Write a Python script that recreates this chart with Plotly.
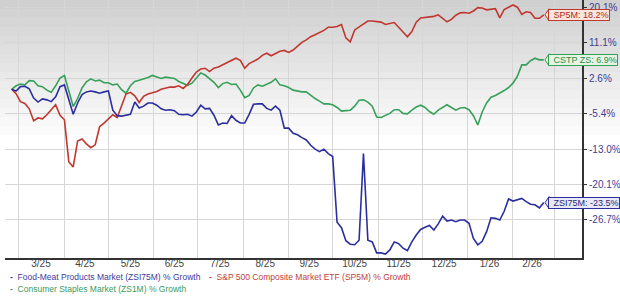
import numpy as np
import pandas as pd
import plotly.graph_objects as go

# ---------------- data ----------------
START_DATE = "2025-02-24"
N_POINTS = 122
DATES = pd.date_range(START_DATE, periods=N_POINTS, freq="3D")

ZSI75M = [
    0.0, -0.4, 0.6, 0.7, 0.1, -2.0, -2.9, -2.2, -2.4, -2.8,
    -1.7, 0.6, 1.0, -2.6, -5.6, -3.1, -1.2, -0.6, -0.4, -0.6,
    -0.9, -0.6, -0.4, -4.7, -5.9, -6.0, -5.8, -5.6, -2.9, -4.2,
    -3.8, -3.1, -3.1, -3.6, -4.4, -4.7, -4.6, -4.8, -5.6, -5.7,
    -5.6, -6.0, -5.1, -3.6, -4.4, -4.3, -5.8, -7.9, -7.5, -7.6,
    -5.9, -6.9, -7.5, -7.5, -5.6, -3.4, -3.3, -3.3, -4.3, -4.7,
    -3.8, -4.7, -8.6, -8.6, -9.7, -10.0, -10.6, -11.1, -12.2, -13.0,
    -13.5, -13.0, -13.9, -14.5, -27.1, -28.1, -30.4, -31.0, -31.1, -30.3,
    -13.9, -30.3, -30.6, -32.5, -32.5, -32.7, -32.0, -30.6, -30.9, -31.7,
    -32.1, -30.6, -29.4, -28.4, -28.0, -27.7, -28.5, -27.4, -26.0, -26.9,
    -26.7, -27.0, -26.7, -26.7, -27.3, -30.0, -31.1, -30.5, -28.8, -26.3,
    -26.4, -26.7, -25.1, -22.8, -23.2, -23.0, -22.7, -23.3, -23.8, -23.9,
    -24.5, -23.5,
]

SP5M = [
    0.0, -1.0, -2.8, -3.2, -4.4, -7.0, -6.4, -6.6, -5.7, -4.7,
    -3.5, -5.8, -6.8, -15.6, -16.6, -11.3, -10.9, -11.9, -12.7, -12.1,
    -8.3, -7.5, -6.6, -5.7, -6.3, -3.8, -1.1, -0.7, -1.5, -3.0,
    -1.6, -1.1, -0.8, -0.5, 0.0, 0.2, 0.5, 0.5, 0.8, 0.2,
    1.1, 2.6, 4.0, 4.7, 4.9, 4.1, 4.9, 5.2, 5.7, 6.2,
    6.7, 7.3, 6.8, 4.9, 6.0, 6.6, 7.1, 8.0, 8.5, 7.9,
    8.4, 9.0, 9.2, 8.7, 9.3, 10.3, 11.2, 11.8, 12.6, 13.1,
    13.6, 14.2, 15.0, 15.0, 15.2, 15.7, 12.3, 11.3, 14.3, 15.1,
    15.9, 16.6, 16.6, 16.4, 16.3, 15.7, 16.0, 16.2, 15.0, 13.9,
    12.6, 13.9, 16.3, 17.4, 17.5, 17.7, 17.8, 18.2, 17.4, 16.4,
    17.0, 18.1, 18.7, 18.8, 18.6, 19.2, 20.1, 20.0, 19.5, 19.7,
    19.8, 17.4, 19.6, 20.2, 20.8, 20.2, 18.3, 19.0, 18.8, 17.3,
    17.3, 18.2,
]

ZS1M = [
    0.0, 0.8, 1.2, 1.0, 2.0, 1.9, 0.8, 0.6, -0.2, -0.7,
    0.8, 2.6, 3.2, -0.2, -3.9, -2.1, 0.3, 1.7, 2.4, 1.9,
    2.1, 1.5, 1.5, 1.0, 1.2, -0.1, -0.9, 0.8, 1.8, 2.1,
    2.4, 2.7, 3.2, 2.8, 2.5, 2.8, 2.7, 2.5, 1.8, 1.3,
    0.9, 1.4, 2.5, 3.8, 3.3, 2.5, 1.6, 0.4, 1.3, 1.6,
    1.1, 1.2, -0.2, -1.9, -1.4, 0.3, 1.0, 0.7, 1.2, 1.6,
    2.4, 1.0, 0.8, 0.4, -0.2, -0.4, -0.6, -0.6, -1.4, -2.1,
    -2.7, -3.3, -3.3, -3.5, -4.1, -4.9, -4.8, -4.7, -3.8, -2.5,
    -2.4, -2.9, -3.8, -6.2, -6.3, -5.9, -5.4, -4.6, -4.6, -5.4,
    -5.5, -4.7, -4.0, -3.6, -4.1, -5.0, -5.6, -4.7, -4.0, -3.5,
    -4.1, -4.7, -4.2, -4.1, -4.6, -5.9, -7.9, -5.1, -3.1, -1.8,
    -1.4, -0.9, -0.3, 0.4, 1.4, 3.0, 5.7, 5.7, 6.7, 7.3,
    6.9, 6.9,
]

SERIES_NAMES = [
    "Food-Meat Products Market (ZSI75M) % Growth",
    "S&P 500 Composite Market ETF (SP5M) % Growth",
    "Consumer Staples Market (ZS1M) % Growth",
]
END_TAGS = ["ZSI75M", "SP5M", "CSTP ZS"]

Y_TICK_VALUES = [-26.7, -20.1, -13.0, -5.4, 2.6, 11.1, 20.1]
Y_TICK_LABELS = ["-26.7%", "-20.1%", "-13.0%", "-5.4%", "2.6%", "11.1%", "20.1%"]

X_TICK_DATES = ["2025-03-16", "2025-04-15", "2025-05-16", "2025-06-15",
                "2025-07-16", "2025-08-16", "2025-09-15", "2025-10-16",
                "2025-11-15", "2025-12-16", "2026-01-16", "2026-02-14"]
X_TICK_LABELS = ["3/25", "4/25", "5/25", "6/25", "7/25", "8/25",
                 "9/25", "10/25", "11/25", "12/25", "1/26", "2/26"]
MONTH_STARTS = ["2025-03-01", "2025-04-01", "2025-05-01", "2025-06-01",
                "2025-07-01", "2025-08-01", "2025-09-01", "2025-10-01",
                "2025-11-01", "2025-12-01", "2026-01-01", "2026-02-01",
                "2026-03-01"]

# growth axis: log scale of (offset + growth %)
OFFSET = 129.4
Y_RANGE = [1.98239, 2.18046]
X_RANGE = ["2025-02-19 11:00", "2026-03-20 02:00"]

# ---------------- styles ----------------
W, H = 620, 298
MARGIN = dict(l=5, r=38, t=0, b=40, pad=0)
PW = W - MARGIN["l"] - MARGIN["r"]
PH = H - MARGIN["t"] - MARGIN["b"]

LINE_COLORS = ["#2b2f9e", "#c0372f", "#37a05a"]
TAG_FILLS = ["#e8e8f6", "#fbe6de", "#e6f4e4"]
TAG_TEXT = ["#2a2a7a", "#b02a22", "#2e8a48"]
LEG_TEXT = ["#3a3aa0", "#c04040", "#3a9a5a"]
GRID = "#d6d6d6"
AXIS = "#333333"
FONT = "Liberation Sans, Arial, sans-serif"


def px_x(px):
    return (px - MARGIN["l"]) / PW


def px_y(py):
    return 1 - (py - MARGIN["t"]) / PH


def val_y(v):
    return (np.log10(v + OFFSET) - Y_RANGE[0]) / (Y_RANGE[1] - Y_RANGE[0])


fig = go.Figure()

series = [ZSI75M, SP5M, ZS1M]
for i in [2, 1, 0]:
    fig.add_trace(go.Scatter(
        x=DATES, y=np.array(series[i]) + OFFSET, mode="lines",
        line=dict(color=LINE_COLORS[i], width=1.6),
        name=SERIES_NAMES[i], showlegend=False, hoverinfo="skip"))

shapes = []
# background gradient (top gray fading to white)
n_bands = 16
for b in range(n_bands):
    top = b * 9
    g = int(0xd0 + (0xff - 0xd0) * b / (n_bands - 1))
    shapes.append(dict(type="rect", xref="paper", yref="paper",
                       x0=px_x(0), x1=px_x(W), y0=px_y(top + 9.5), y1=px_y(top),
                       fillcolor=f"rgb({g},{g},{g})", line=dict(width=0),
                       layer="below"))

annotations = []
# end-of-line tags
for i in range(3):
    v = series[i][-1]
    yc = val_y(v)
    hh = 6.0 / PH
    shapes.append(dict(type="path", xref="paper", yref="paper",
                       path=(f"M {px_x(549)},{yc + hh} L {px_x(545)},{yc} "
                             f"L {px_x(549)},{yc - hh} Z"),
                       fillcolor=TAG_FILLS[i], line=dict(color=LINE_COLORS[i], width=1),
                       layer="above"))
    annotations.append(dict(
        xref="paper", yref="paper", x=px_x(548), y=yc,
        xanchor="left", yanchor="middle", showarrow=False,
        text=f"\u2002{END_TAGS[i]}: {v:.1f}%",
        font=dict(family=FONT, size=9, color=TAG_TEXT[i]),
        bgcolor=TAG_FILLS[i], bordercolor=LINE_COLORS[i], borderwidth=1, borderpad=0))

# legend as text rows
legend_pos = [(8, 276.5), (207, 276.5), (8, 289)]
for i in range(3):
    lx, ly = legend_pos[i]
    annotations.append(dict(
        xref="paper", yref="paper", x=px_x(lx), y=px_y(ly),
        xanchor="left", yanchor="middle", showarrow=False,
        text=f"<b>-</b>  {SERIES_NAMES[i]}",
        font=dict(family=FONT, size=8.5, color=LEG_TEXT[i])))

fig.update_layout(
    width=W, height=H, margin=MARGIN,
    paper_bgcolor="white", plot_bgcolor="rgba(0,0,0,0)",
    shapes=shapes, annotations=annotations,
    xaxis=dict(
        type="date", range=X_RANGE, tickmode="array",
        tickvals=X_TICK_DATES, ticktext=X_TICK_LABELS,
        showgrid=False, ticks="", zeroline=False,
        showline=True, linecolor=AXIS, linewidth=2,
        ticklabelstandoff=-5,
        tickfont=dict(family=FONT, size=10, color="#444444"),
        minor=dict(tickmode="array", tickvals=MONTH_STARTS, showgrid=True,
                   gridcolor=GRID, gridwidth=1, ticks=""),
    ),
    yaxis=dict(
        type="log", range=Y_RANGE, side="right", tickmode="array",
        tickvals=[v + OFFSET for v in Y_TICK_VALUES], ticktext=Y_TICK_LABELS,
        showgrid=True, gridcolor=GRID, gridwidth=1, zeroline=False,
        ticks="outside", ticklen=3, tickcolor=AXIS,
        showline=True, linecolor=AXIS, linewidth=2,
        tickfont=dict(family=FONT, size=10, color="#3d3d99"),
    ),
)

fig.write_html("out.html")
